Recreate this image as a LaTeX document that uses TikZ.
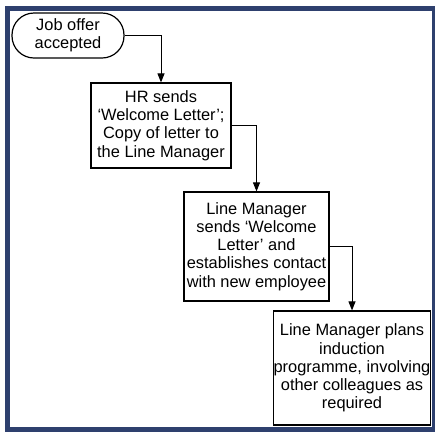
\documentclass[tikz,border=0pt]{standalone}
\usepackage{fontspec}
\setmainfont{Liberation Sans}
\usetikzlibrary{arrows.meta}
\definecolor{frameblue}{RGB}{46,64,110}
\tikzset{
  frame/.style={draw=frameblue, line width=5pt},
  procbox/.style={draw=black, line width=1.2pt, fill=white, rectangle,
    align=center, inner sep=0pt, font=\fontsize{16.4}{18.2}\selectfont},
  terminal/.style={procbox, rounded corners=22pt},
  flow/.style={draw=black, line width=1pt, -{Triangle[length=9pt,width=7pt]}}
}
\begin{document}
\begin{tikzpicture}[x=1pt,y=-1pt]
  \clip (0,0) rectangle (435,432);
  \fill[white] (0,0) rectangle (435,432);
  \draw[frame] (7.5,8.3) rectangle (434.5,429.5);

  \node[terminal, minimum width=112pt, minimum height=45pt] (start) at (68,35.5)
    {Job offer\\accepted};
  \node[procbox, minimum width=140pt, minimum height=85pt] (hr) at (161,125.5)
    {HR sends\\`Welcome Letter';\\Copy of letter to\\the Line Manager};
  \node[procbox, minimum width=145pt, minimum height=109pt] (lm) at (256.5,246.5)
    {Line Manager\\sends `Welcome\\Letter' and\\establishes contact\\with new employee};
  \node[procbox, minimum width=156pt, minimum height=114pt] (ind) at (352,368)
    {Line Manager plans\\induction\\programme, involving\\other colleagues as\\required};

  \draw[flow] (start.east) -| (hr.north);
  \draw[flow] (hr.east) -| (lm.north);
  \draw[flow] (lm.east) -| (ind.north);
\end{tikzpicture}
\end{document}
